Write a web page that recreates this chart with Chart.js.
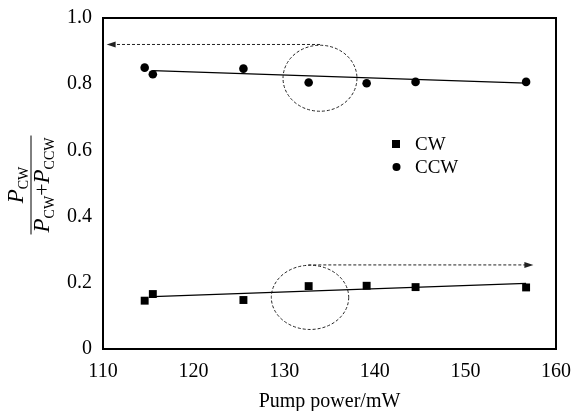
<!DOCTYPE html>
<html>
<head>
<meta charset="utf-8">
<script src="https://cdn.jsdelivr.net/npm/chart.js@4"></script>
<style>
  body { margin: 0; background: #fff; }
  #wrap { width: 573px; height: 411px; }
</style>
</head>
<body>
<div id="wrap"><canvas id="chart" width="573" height="411"></canvas></div>
<script>
// data
const pumpPower = [114.6, 115.5, 125.5, 132.7, 139.1, 144.5, 156.7];
const cwRatio = [0.146, 0.166, 0.148, 0.190, 0.191, 0.187, 0.186];
const ccwRatio = [0.850, 0.830, 0.847, 0.805, 0.803, 0.807, 0.807];

// fitted lines (end points as drawn)
const fitX = [115.5, 156.7];
const cwFit = [0.158, 0.198];
const ccwFit = [0.841, 0.803];

const xTicks = [110, 120, 130, 140, 150, 160];
const yTicks = [0, 0.2, 0.4, 0.6, 0.8, 1.0];

// dashed annotations in data units: [cx, cy, rx, ry]
const ellipses = [[133.95, 0.818, 4.08, 0.0997], [132.85, 0.156, 4.27, 0.097]];
// arrows: [x0, y0, x1, y1]
const arrows = [[133.95, 0.92, 110.4, 0.92], [132.66, 0.254, 157.5, 0.254]];

const serif = "'Liberation Serif', 'Times New Roman', serif";

const toXY = (xs, ys) => xs.map((x, i) => ({ x: x, y: ys[i] }));

const framePlugin = {
  id: 'frame',
  beforeDatasetsDraw(chart) {
    const { ctx, chartArea: a } = chart;
    ctx.save();
    ctx.strokeStyle = '#000';
    ctx.lineWidth = 2;
    ctx.strokeRect(a.left, a.top, a.right - a.left, a.bottom - a.top);
    ctx.restore();
  },
  afterDatasetsDraw(chart) {
    const { ctx } = chart;
    const xs = chart.scales.x, ys = chart.scales.y;
    ctx.save();
    ctx.strokeStyle = '#222';
    ctx.lineWidth = 1;
    ctx.setLineDash([3, 2]);
    ellipses.forEach(e => {
      const cx = xs.getPixelForValue(e[0]), cy = ys.getPixelForValue(e[1]);
      const rx = xs.getPixelForValue(e[0] + e[2]) - cx;
      const ry = cy - ys.getPixelForValue(e[1] + e[3]);
      ctx.beginPath();
      ctx.ellipse(cx, cy, rx, ry, 0, 0, Math.PI * 2);
      ctx.stroke();
    });
    arrows.forEach(r => {
      const x0 = xs.getPixelForValue(r[0]), y0 = ys.getPixelForValue(r[1]);
      const x1 = xs.getPixelForValue(r[2]), y1 = ys.getPixelForValue(r[3]);
      const dir = Math.sign(x1 - x0);
      ctx.setLineDash([3, 2]);
      ctx.beginPath();
      ctx.moveTo(x0, y0);
      ctx.lineTo(x1 - dir * 6, y1);
      ctx.stroke();
      ctx.setLineDash([]);
      ctx.fillStyle = '#222';
      ctx.beginPath();
      ctx.moveTo(x1, y1);
      ctx.lineTo(x1 - dir * 9, y1 - 3);
      ctx.lineTo(x1 - dir * 9, y1 + 3);
      ctx.closePath();
      ctx.fill();
    });
    ctx.restore();

    // legend
    ctx.save();
    ctx.fillStyle = '#000';
    ctx.fillRect(392, 140, 8, 8);
    ctx.beginPath();
    ctx.arc(396.5, 167, 4, 0, Math.PI * 2);
    ctx.fill();
    ctx.font = '19px ' + serif;
    ctx.textBaseline = 'middle';
    ctx.fillText('CW', 415, 145);
    ctx.fillText('CCW', 415, 168);
    ctx.restore();

    // y axis title: P_CW / (P_CW + P_CCW), rotated
    ctx.save();
    ctx.fillStyle = '#000';
    const big = 'italic 23px ' + serif, small = '14px ' + serif, plain = '22px ' + serif;
    function run(parts) {
      let w = 0;
      parts.forEach(p => { ctx.font = p[1]; w += ctx.measureText(p[0]).width; });
      return w;
    }
    function drawRun(parts, x, y) {
      parts.forEach(p => {
        ctx.font = p[1];
        ctx.fillText(p[0], x, y + p[2]);
        x += ctx.measureText(p[0]).width;
      });
    }
    const num = [['P', big, 0], ['CW', small, 5]];
    const den = [['P', big, 0], ['CW', small, 5], ['+', plain, 0], ['P', big, 0], ['CCW', small, 5]];
    ctx.translate(31, 185);
    ctx.rotate(-Math.PI / 2);
    ctx.textBaseline = 'alphabetic';
    const wn = run(num), wd = run(den);
    drawRun(num, -wn / 2, -8);
    drawRun(den, -wd / 2, 18);
    ctx.lineWidth = 1;
    ctx.strokeStyle = '#000';
    ctx.beginPath();
    ctx.moveTo(-wd / 2 - 2, 0);
    ctx.lineTo(wd / 2 + 2, 0);
    ctx.stroke();
    ctx.restore();
  }
};

function noScalePadding(s) {
  s.paddingLeft = 0;
  s.paddingRight = 0;
  s.paddingTop = 0;
  s.paddingBottom = 0;
}

new Chart(document.getElementById('chart'), {
  type: 'scatter',
  data: {
    datasets: [
      {
        label: 'CW',
        data: toXY(pumpPower, cwRatio),
        pointStyle: 'rect',
        pointRadius: 5.6,
        backgroundColor: '#000',
        borderColor: '#000',
        borderWidth: 0
      },
      {
        label: 'CCW',
        data: toXY(pumpPower, ccwRatio),
        pointStyle: 'circle',
        pointRadius: 4.3,
        backgroundColor: '#000',
        borderColor: '#000',
        borderWidth: 0
      },
      {
        label: 'CW fit',
        data: toXY(fitX, cwFit),
        showLine: true,
        pointRadius: 0,
        borderColor: '#000',
        borderWidth: 1.3
      },
      {
        label: 'CCW fit',
        data: toXY(fitX, ccwFit),
        showLine: true,
        pointRadius: 0,
        borderColor: '#000',
        borderWidth: 1.3
      }
    ]
  },
  options: {
    responsive: false,
    animation: false,
    layout: { padding: { left: 0, right: 17, top: 18, bottom: 0 } },
    plugins: {
      legend: { display: false },
      tooltip: { enabled: false }
    },
    scales: {
      x: {
        type: 'linear',
        min: 110,
        max: 160,
        afterBuildTicks: s => { s.ticks = xTicks.map(v => ({ value: v })); },
        afterFit: s => { s.height = 62; noScalePadding(s); },
        grid: { display: false, drawTicks: false },
        border: { display: false },
        ticks: { color: '#000', padding: 11, font: { family: serif, size: 20 } },
        title: {
          display: true,
          text: 'Pump power/mW',
          color: '#000',
          font: { family: serif, size: 20 },
          padding: { top: 0, bottom: -3 }
        }
      },
      y: {
        min: 0,
        max: 1,
        afterBuildTicks: s => { s.ticks = yTicks.map(v => ({ value: v })); },
        afterFit: s => { s.width = 103; noScalePadding(s); },
        grid: { display: false, drawTicks: false },
        border: { display: false },
        ticks: {
          color: '#000',
          padding: 11,
          font: { family: serif, size: 20 },
          callback: v => v === 0 ? '0' : v.toFixed(1)
        }
      }
    }
  },
  plugins: [framePlugin]
});
</script>
</body>
</html>
